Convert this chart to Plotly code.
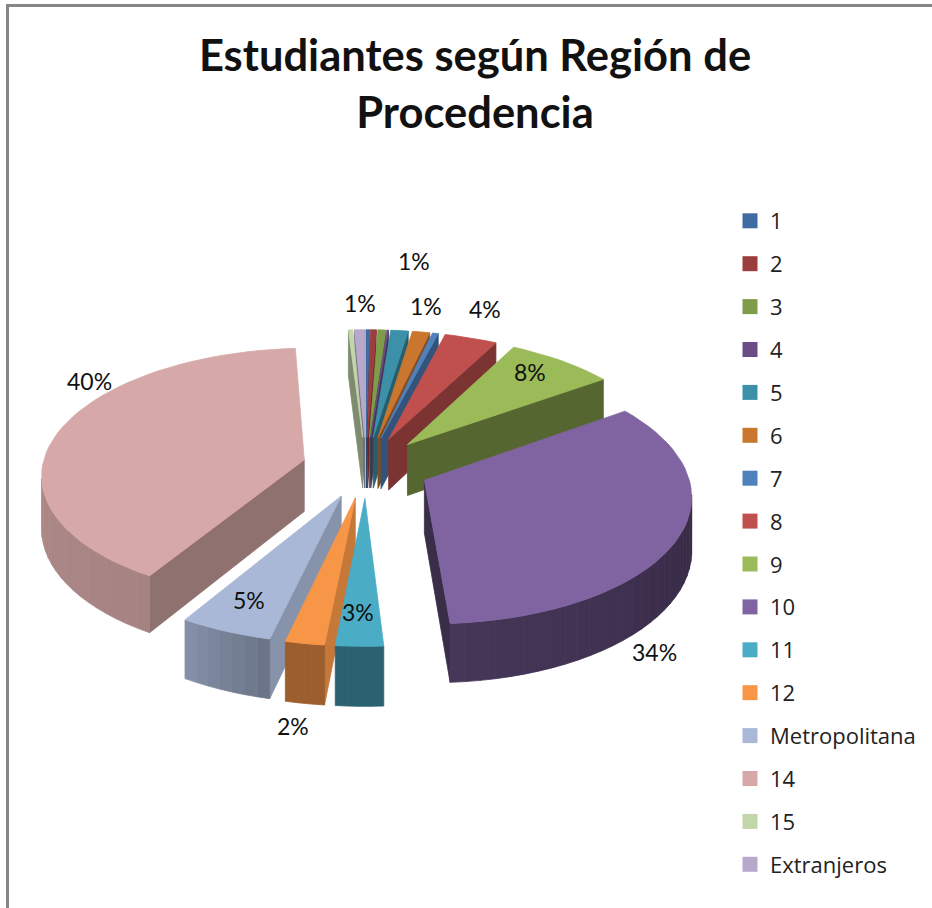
import math
import plotly.graph_objects as go

# ---- data ----
regions = ["1", "2", "3", "4", "5", "6", "7", "8", "9", "10", "11", "12",
           "Metropolitana", "14", "15", "Extranjeros"]
shares = [0.2, 0.4, 0.55, 0.1, 1.2, 1.2, 0.4, 3.65, 7.5, 33.65, 2.55, 2.1, 5, 40.2, 0.3, 0.7]
percent_labels = ["1%", "1%", "1%", "4%", "8%", "34%", "3%", "5%", "2%", "40%"]

# ---- styles ----
colors = ["#3F6CA3", "#9C3D3D", "#7F9C4A", "#6A4D87", "#3C91A8", "#C9762F", "#4F81BD", "#C0504D",
          "#9BBB59", "#8064A2", "#4BACC6", "#F79646", "#A9B8D6", "#D6A9A8", "#C3D6AB", "#B8A9CC"]
rim_shade = {7: (.7, .7), 8: (.55, .55), 9: (.36, .55), 10: (.57, .57), 11: (.63, .63),
             12: (.64, .78), 13: (.78, .86)}
wall_shade = {8: .55, 9: .45, 11: .8, 12: .8, 13: .67}
label_px = [(414, 261), (360, 303), (426, 306), (485, 309), (530, 372),
            (654, 652), (358, 612), (249, 600), (293, 726), (89, 381)]

CX, CY, R, EXPLODE, TILT, THICK, PERSP = 366, 467, 262, 64, 0.477, 52, 2450
START = 0

def project(X, Y, z):
    p = 1 / (1 + Y / PERSP)
    return CX + X * p, CY - Y * TILT * p + z * THICK * p

def shade(hex_c, f):
    r, g, b = [int(hex_c[i:i + 2], 16) for i in (1, 3, 5)]
    return "#%02x%02x%02x" % (int(r * f), int(g * f), int(b * f))

def area(pts):
    s = 0
    for i in range(len(pts)):
        x0, y0 = pts[i]
        x1, y1 = pts[(i + 1) % len(pts)]
        s += x0 * y1 - x1 * y0
    return s

fig = go.Figure()

def poly(pts, color):
    fig.add_trace(go.Scatter(
        x=[p[0] for p in pts] + [pts[0][0]], y=[p[1] for p in pts] + [pts[0][1]],
        mode="lines", fill="toself", fillcolor=color, line=dict(color=color, width=0.8),
        hoverinfo="skip", showlegend=False))

total = sum(shares)
slices = []
acc = START
for i, v in enumerate(shares):
    span = v / total * 360
    slices.append((i, acc, acc + span))
    acc += span

def slice_key(s):
    mid = math.radians((s[1] + s[2]) / 2)
    return -math.cos(mid)

for i, t0, t1 in sorted(slices, key=slice_key):
    mid = math.radians((t0 + t1) / 2)
    ox, oy = EXPLODE * math.sin(mid), EXPLODE * math.cos(mid)
    n = max(1, math.ceil((t1 - t0) / 3))
    angles = [math.radians(t0 + (t1 - t0) * k / n) for k in range(n + 1)]
    rim = [(ox + R * math.sin(a), oy + R * math.cos(a)) for a in angles]
    c = colors[i]
    wf = wall_shade.get(i, .65)
    a_top, a_bot = project(ox, oy, 0), project(ox, oy, 1)
    # radial walls
    q = [a_top, project(*rim[0], 0), project(*rim[0], 1), a_bot]
    if area(q) < 0:
        poly(q, shade(c, wf))
    q = [project(*rim[-1], 0), a_top, a_bot, project(*rim[-1], 1)]
    if area(q) < 0:
        poly(q, shade(c, wf))
    # outer rim
    f0, f1 = rim_shade.get(i, (.65, .65))
    for k in range(n):
        q = [project(*rim[k], 0), project(*rim[k + 1], 0), project(*rim[k + 1], 1), project(*rim[k], 1)]
        if area(q) < 0:
            poly(q, shade(c, f0 + (f1 - f0) * k / max(1, n - 1)))
    # top face
    poly([a_top] + [project(*p, 0) for p in rim], c)

# legend entries
for name, c in zip(regions, colors):
    fig.add_trace(go.Scatter(x=[None], y=[None], mode="markers", name=name, legendgroup=name,
                             marker=dict(symbol="square", size=15, color=c)))

for txt, (x, y) in zip(percent_labels, label_px):
    fig.add_annotation(x=x, y=y, xref="x", yref="y", text=txt, showarrow=False,
                       font=dict(family="Lato", size=23, color="#111111"))

# chart frame
fig.add_shape(type="line", xref="x", yref="y", x0=7.5, y0=5.5, x1=7.5, y1=908,
              line=dict(color="#868686", width=3))
fig.add_shape(type="line", xref="x", yref="y", x0=6, y0=5.5, x1=932, y1=5.5,
              line=dict(color="#868686", width=3))

fig.update_layout(
    width=932, height=908, autosize=False,
    margin=dict(l=0, r=0, t=0, b=0, autoexpand=False),
    paper_bgcolor="white", plot_bgcolor="white",
    title=dict(text="<b>Estudiantes según Región de<br>Procedencia</b>",
               x=475 / 932, xanchor="center", y=1 - 71 / 908, yanchor="top",
               automargin=False,
               font=dict(family="Lato", size=43.5, color="#111111")),
    xaxis=dict(range=[0, 932], visible=False, fixedrange=True),
    yaxis=dict(range=[908, 0], visible=False, fixedrange=True),
    legend=dict(x=730 / 932, xanchor="left", y=1 - 200 / 908, yanchor="top",
                font=dict(family="Open Sans", size=22, color="#222222"),
                tracegroupgap=11.3, bgcolor="rgba(0,0,0,0)", traceorder="grouped"),
)
fig.write_html("out.html", post_script="document.body.style.margin='0';",
               config=dict(displayModeBar=False))
